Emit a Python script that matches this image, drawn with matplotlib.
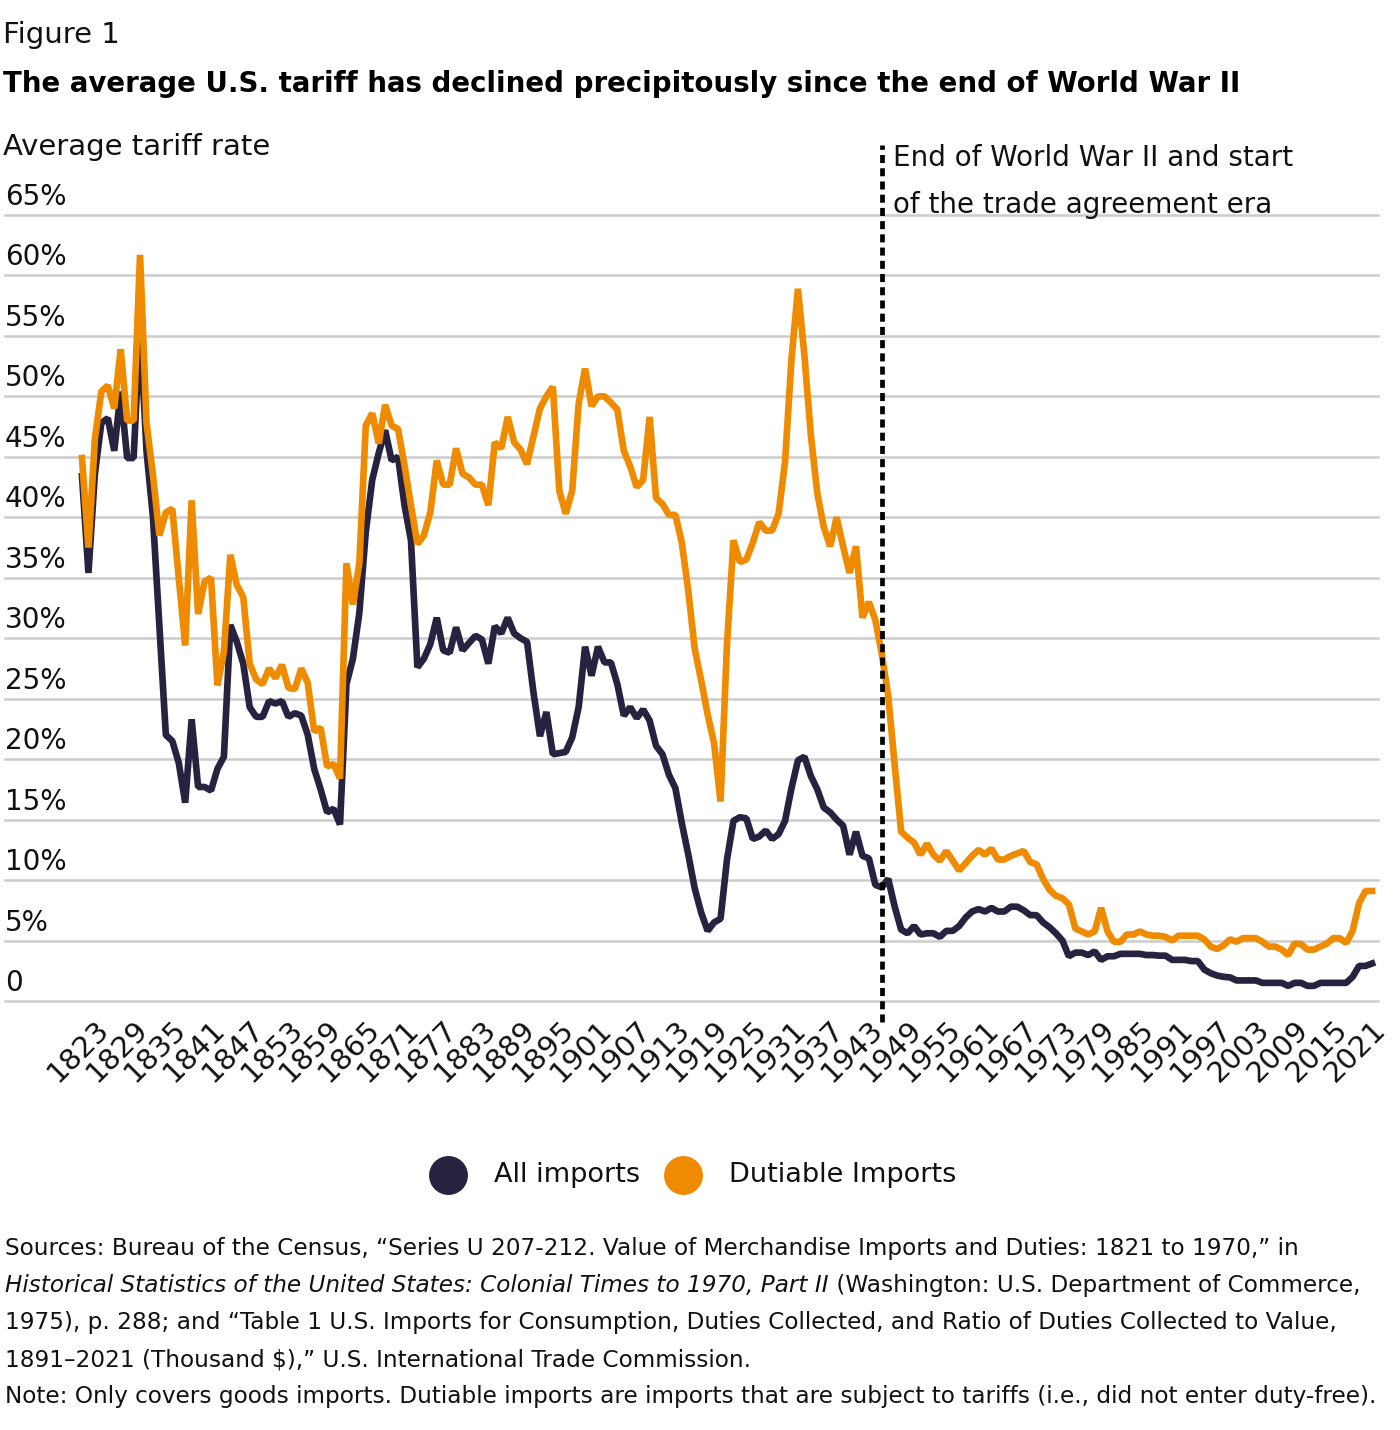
import matplotlib
matplotlib.use("Agg")
import matplotlib.pyplot as plt
from matplotlib.lines import Line2D

# annual average tariff rate, %
YEARS = list(range(1821, 2022))

ALL_IMPORTS = [
    43.4, 35.4, 43.6, 47.8, 48.2, 45.5, 50.4, 44.9, 44.9, 55.8,  # 1821-30
    45.5, 40.0, 31.0, 22.0, 21.5, 19.7, 16.4, 23.3, 17.7, 17.7,  # 1831-40
    17.4, 19.2, 20.2, 31.1, 29.7, 27.9, 24.3, 23.5, 23.5, 24.8,  # 1841-50
    24.6, 24.8, 23.5, 23.8, 23.6, 22.0, 19.2, 17.5, 15.6, 15.9,  # 1851-60
    14.6, 26.2, 28.3, 32.1, 38.8, 43.1, 45.3, 47.2, 44.7, 45.0,  # 1861-70
    41.0, 38.1, 27.6, 28.3, 29.5, 31.7, 29.0, 28.8, 30.9, 29.0,  # 1871-80
    29.6, 30.2, 29.9, 27.9, 31.0, 30.4, 31.7, 30.4, 30.0, 29.7,  # 1881-90
    25.5, 21.9, 23.9, 20.4, 20.5, 20.6, 21.8, 24.3, 29.3, 26.9,  # 1891-1900
    29.3, 28.0, 28.0, 26.2, 23.6, 24.3, 23.4, 24.1, 23.2, 21.1,  # 1901-10
    20.4, 18.7, 17.6, 14.7, 12.1, 9.3, 7.3, 5.8, 6.5, 6.8,  # 1911-20
    11.7, 14.9, 15.2, 15.1, 13.4, 13.6, 14.1, 13.4, 13.8, 14.9,  # 1921-30
    17.6, 19.9, 20.2, 18.6, 17.5, 16.0, 15.6, 15.0, 14.5, 12.1,  # 1931-40
    14.0, 12.0, 11.8, 9.6, 9.4, 10.1, 7.8, 5.9, 5.6, 6.2,  # 1941-50
    5.5, 5.6, 5.6, 5.3, 5.8, 5.8, 6.2, 6.9, 7.4, 7.6,  # 1951-60
    7.4, 7.7, 7.4, 7.4, 7.8, 7.8, 7.5, 7.1, 7.1, 6.5,  # 1961-70
    6.1, 5.6, 5.0, 3.7, 4.0, 4.0, 3.8, 4.1, 3.4, 3.7,  # 1971-80
    3.7, 3.9, 3.9, 3.9, 3.9, 3.8, 3.8, 3.75, 3.75, 3.4,  # 1981-90
    3.4, 3.4, 3.3, 3.3, 2.6, 2.3, 2.1, 2.0, 1.95, 1.7,  # 1991-2000
    1.7, 1.7, 1.7, 1.5, 1.5, 1.5, 1.5, 1.25, 1.5, 1.5,  # 2001-10
    1.25, 1.25, 1.5, 1.5, 1.5, 1.5, 1.5, 2.0, 2.9, 2.9,  # 2011-20
    3.1,  # 2021
]

DUTIABLE = [
    44.9, 37.5, 46.5, 50.4, 50.9, 49.0, 53.9, 48.0, 48.0, 61.7,  # 1821-30
    47.8, 43.5, 38.5, 40.4, 40.7, 35.0, 29.4, 41.4, 32.0, 34.7,  # 1831-40
    35.0, 26.1, 28.9, 36.9, 34.4, 33.4, 27.9, 26.6, 26.2, 27.5,  # 1841-50
    26.7, 27.8, 25.9, 25.8, 27.5, 26.3, 22.3, 22.6, 19.4, 19.6,  # 1851-60
    18.4, 36.2, 32.8, 36.2, 47.6, 48.6, 46.1, 49.3, 47.6, 47.3,  # 1861-70
    44.3, 41.0, 37.8, 38.5, 40.4, 44.7, 42.7, 42.7, 45.7, 43.6,  # 1871-80
    43.3, 42.7, 42.7, 41.0, 46.2, 45.7, 48.3, 46.2, 45.6, 44.4,  # 1881-90
    46.7, 49.0, 50.0, 50.8, 42.2, 40.3, 42.2, 49.4, 52.3, 49.2,  # 1891-1900
    50.0, 50.0, 49.5, 48.9, 45.5, 44.2, 42.5, 43.1, 48.3, 41.6,  # 1901-10
    41.1, 40.2, 40.2, 37.9, 33.9, 29.1, 26.5, 23.7, 21.3, 16.5,  # 1911-20
    29.5, 38.1, 36.3, 36.5, 37.9, 39.6, 38.9, 38.9, 40.3, 44.6,  # 1921-30
    53.1, 58.9, 53.4, 46.8, 42.0, 39.2, 37.6, 40.0, 37.6, 35.4,  # 1931-40
    37.6, 31.7, 33.0, 31.5, 28.7, 25.2, 19.5, 14.0, 13.5, 13.1,  # 1941-50
    12.1, 13.0, 12.1, 11.6, 12.4, 11.6, 10.8, 11.4, 12.0, 12.5,  # 1951-60
    12.1, 12.6, 11.7, 11.7, 12.0, 12.2, 12.4, 11.5, 11.3, 10.1,  # 1961-70
    9.2, 8.7, 8.5, 8.0, 6.0, 5.75, 5.5, 5.75, 7.7, 5.75,  # 1971-80
    4.9, 4.9, 5.5, 5.5, 5.75, 5.5, 5.4, 5.4, 5.3, 5.0,  # 1981-90
    5.4, 5.4, 5.4, 5.4, 5.1, 4.5, 4.3, 4.6, 5.1, 4.9,  # 1991-2000
    5.2, 5.2, 5.2, 4.9, 4.5, 4.5, 4.25, 3.8, 4.75, 4.7,  # 2001-10
    4.25, 4.25, 4.5, 4.75, 5.2, 5.2, 4.8, 5.8, 8.1, 9.1,  # 2011-20
    9.1,  # 2021
]

TICK_YEARS = list(range(1823, 2022, 6))
Y_TICKS = list(range(0, 70, 5))
WW2_END = 1945

DARK = "#272240"
ORANGE = "#ee8b00"
GRID = "#cccccc"
INK = "#111111"
plt.rcParams["font.family"] = ["DejaVu Sans"]

W, H = 1400, 1430
fig = plt.figure(figsize=(W / 100, H / 100), dpi=100)


def fx(px):
    return px / W


def fy(py):
    return 1 - py / H


# plot area in pixels: 1821 at x=82, 2021 at x=1372; 0% at y=1001, 65% at y=215
px_per_year = (1372 - 82) / 200
left_px, right_px = 5, 1378
ax = fig.add_axes([fx(left_px), fy(1001), (right_px - left_px) / W, (1001 - 215) / H])
ax.set_xlim(1821 + (left_px - 82) / px_per_year, 1821 + (right_px - 82) / px_per_year)
ax.set_ylim(0, 65)
for s in ax.spines.values():
    s.set_visible(False)
ax.set_yticks([])

for v in Y_TICKS:
    ax.axhline(v, color=GRID, lw=1.8, zorder=0, clip_on=False)
    ax.annotate("0" if v == 0 else f"{v}%", xy=(0, v),
                xycoords=("axes fraction", "data"), xytext=(0, 10),
                textcoords="offset pixels", ha="left", va="baseline",
                fontsize=20, color=INK)

ax.plot(YEARS, ALL_IMPORTS, color=DARK, lw=4.8, solid_joinstyle="bevel", zorder=3)
ax.plot(YEARS, DUTIABLE, color=ORANGE, lw=4.8, solid_joinstyle="bevel", zorder=4)
ax.plot([WW2_END, WW2_END], [-1.7, 70.8], color="black", lw=3.4,
        dashes=(1.7, 1.1), clip_on=False, zorder=5)

ax.set_xticks(TICK_YEARS)
ax.set_xticklabels([str(y) for y in TICK_YEARS], rotation=45, ha="right",
                   rotation_mode="anchor", fontsize=21, color=INK)
ax.tick_params(axis="x", length=0, pad=10)

# header
fig.text(fx(3), fy(43), "Figure 1", fontsize=21, color=INK, va="baseline")
fig.text(fx(3), fy(92),
         "The average U.S. tariff has declined precipitously since the end of World War II",
         fontsize=19.9, weight="bold", color="black", va="baseline")
fig.text(fx(3), fy(155), "Average tariff rate", fontsize=21, color=INK, va="baseline")

# annotation next to the dashed line
fig.text(fx(893), fy(166), "End of World War II and start", fontsize=20,
         color=INK, va="baseline")
fig.text(fx(893), fy(213), "of the trade agreement era", fontsize=20,
         color=INK, va="baseline")

# legend
for cx, tx, col, lab in [(448, 494, DARK, "All imports"),
                         (683, 729, ORANGE, "Dutiable Imports")]:
    fig.add_artist(Line2D([fx(cx)], [fy(1175)], marker="o", markersize=27,
                          color=col, linestyle="none", transform=fig.transFigure))
    fig.text(fx(tx), fy(1175), lab, fontsize=19.5, color=INK, va="center")

# sources and note
src = dict(fontsize=16.7, color=INK, va="baseline")
fig.text(fx(5), fy(1255),
         "Sources: Bureau of the Census, \u201cSeries U 207-212. Value of Merchandise "
         "Imports and Duties: 1821 to 1970,\u201d in", **src)
renderer = fig.canvas.get_renderer()
ital = fig.text(fx(5), fy(1292),
                "Historical Statistics of the United States: Colonial Times to 1970, Part II",
                style="italic", **src)
bb = ital.get_window_extent(renderer)
fig.text(bb.x1 / W, fy(1292), " (Washington: U.S. Department of Commerce,", **src)
fig.text(fx(5), fy(1329),
         "1975), p. 288; and \u201cTable 1 U.S. Imports for Consumption, Duties Collected, "
         "and Ratio of Duties Collected to Value,", **src)
fig.text(fx(5), fy(1366),
         "1891\u20132021 (Thousand $),\u201d U.S. International Trade Commission.", **src)
fig.text(fx(5), fy(1403),
         "Note: Only covers goods imports. Dutiable imports are imports that are subject "
         "to tariffs (i.e., did not enter duty-free).", **src)

fig.savefig("out.png", dpi=100)
